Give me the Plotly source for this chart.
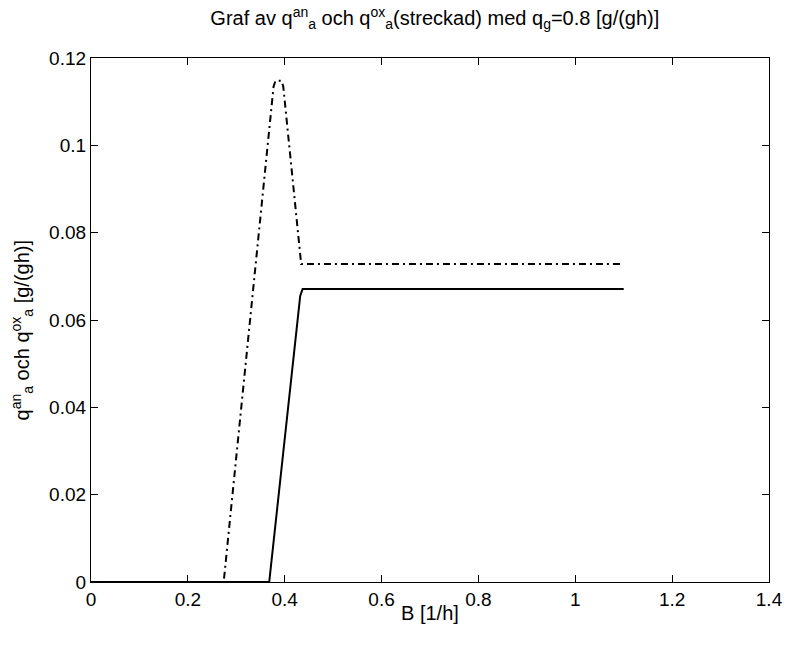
import plotly.graph_objects as go

# Data
B_an = [0.0, 0.368, 0.432, 0.437, 1.10]
qa_an = [0.0, 0.0, 0.0655, 0.0671, 0.0671]

B_ox = [0.0, 0.274, 0.377, 0.381, 0.393, 0.397, 0.434, 1.10]
qa_ox = [0.0, 0.0, 0.1135, 0.1148, 0.1148, 0.1135, 0.0728, 0.0728]

x_ticks = [0, 0.2, 0.4, 0.6, 0.8, 1, 1.2, 1.4]
x_labels = ["0", "0.2", "0.4", "0.6", "0.8", "1", "1.2", "1.4"]
y_ticks = [0, 0.02, 0.04, 0.06, 0.08, 0.1, 0.12]
y_labels = ["0", "0.02", "0.04", "0.06", "0.08", "0.1", "0.12"]

font_family = "Liberation Sans, Arial, Helvetica, sans-serif"

fig = go.Figure()
fig.add_trace(go.Scatter(x=B_an, y=qa_an, mode="lines",
                         line=dict(color="black", width=2), showlegend=False))
fig.add_trace(go.Scatter(x=B_ox, y=qa_ox, mode="lines",
                         line=dict(color="black", width=2, dash="7px,4px,2px,4px"),
                         showlegend=False))

axis_common = dict(showline=True, linecolor="black", linewidth=1.2, mirror="allticks",
                   ticks="inside", ticklen=7, tickcolor="black", showgrid=False,
                   zeroline=False, tickfont=dict(family=font_family, size=19, color="black"))

fig.update_layout(
    width=795, height=645,
    margin=dict(l=91, r=19, t=58, b=63),
    paper_bgcolor="white", plot_bgcolor="white",
    font=dict(family=font_family, color="black"),
    title=dict(text="Graf av q<sup>an</sup><sub>a</sub> och q<sup>ox</sup><sub>a</sub>(streckad) med q<sub>g</sub>=0.8 [g/(gh)]",
               x=0.547, xanchor="center", y=0.972, yanchor="middle",
               font=dict(size=20, family=font_family)),
    xaxis=dict(range=[0, 1.4], tickvals=x_ticks, ticktext=x_labels, **axis_common),
    yaxis=dict(range=[0, 0.12], tickvals=y_ticks, ticktext=y_labels, **axis_common),
    annotations=[
        dict(text="q<sup>an</sup><sub>a</sub> och q<sup>ox</sup><sub>a</sub> [g/(gh)]",
             xref="paper", yref="paper", x=0, y=0.48, xanchor="center",
             yanchor="middle", xshift=-69, textangle=-90, showarrow=False,
             font=dict(size=20, family=font_family, color="black")),
        dict(text="B [1/h]", xref="paper", yref="paper", x=0.5, y=0,
             xanchor="center", yanchor="middle", yshift=-31, showarrow=False,
             font=dict(size=20, family=font_family, color="black")),
    ],
)

fig.write_html("out.html")
